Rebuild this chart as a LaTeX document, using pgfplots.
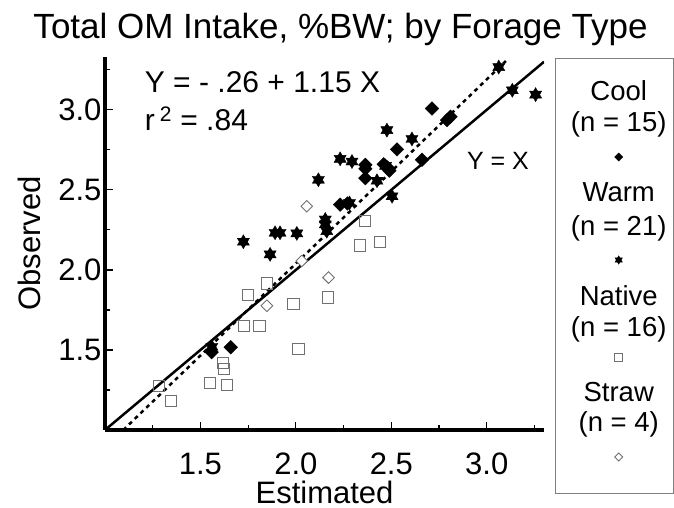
\documentclass[border=0pt]{standalone}
\usepackage{fontspec}
\setmainfont{Liberation Sans}
\usepackage{pgfplots}
\pgfplotsset{compat=1.18}
\definecolor{mk}{HTML}{707070}
\pgfdeclareplotmark{hexstar}{%
 \pgfpathmoveto{\pgfqpointpolar{90}{\pgfplotmarksize}}%
 \pgfpathlineto{\pgfqpointpolar{210}{\pgfplotmarksize}}%
 \pgfpathlineto{\pgfqpointpolar{330}{\pgfplotmarksize}}%
 \pgfpathclose
 \pgfpathmoveto{\pgfqpointpolar{270}{\pgfplotmarksize}}%
 \pgfpathlineto{\pgfqpointpolar{30}{\pgfplotmarksize}}%
 \pgfpathlineto{\pgfqpointpolar{150}{\pgfplotmarksize}}%
 \pgfpathclose
 \pgfusepathqfillstroke}
\pgfdeclareplotmark{rdiam}{%
 \pgfpathmoveto{\pgfqpoint{0pt}{\pgfplotmarksize}}%
 \pgfpathlineto{\pgfqpoint{\pgfplotmarksize}{0pt}}%
 \pgfpathlineto{\pgfqpoint{0pt}{-\pgfplotmarksize}}%
 \pgfpathlineto{\pgfqpoint{-\pgfplotmarksize}{0pt}}%
 \pgfpathclose
 \pgfusepathqfillstroke}
\begin{document}
\begin{tikzpicture}
\path[use as bounding box] (0,0) rectangle (674bp,508bp);
\begin{axis}[
  at={(105bp,78bp)}, anchor=south west,
  scale only axis, width=439bp, height=373bp,
  xmin=1.0, xmax=3.30, ymin=1.0, ymax=3.33,
  axis x line=bottom, axis y line=left,
  axis line style={line width=3bp, -},
  xtick={1.5,2.0,2.5,3.0}, ytick={1.5,2.0,2.5,3.0},
  minor xtick={1.25,1.75,2.25,2.75,3.25},
  minor ytick={1.25,1.75,2.25,2.75,3.25},
  tick align=inside,
  major tick length=8bp, minor tick length=5bp,
  every tick/.style={black, line width=1.2bp},
  xticklabels={1.5,2.0,2.5,3.0}, yticklabels={1.5,2.0,2.5,3.0},
  /pgf/number format/assume math mode=true,
  ticklabel style={font=\fontsize{31bp}{36bp}\selectfont},
  xticklabel style={anchor=base, yshift=-44bp},
  xlabel={Estimated}, ylabel={Observed},
  label style={font=\fontsize{31bp}{36bp}\selectfont, inner sep=0pt},
  xlabel style={at={(axis description cs:0.5,0)}, anchor=base, yshift=-73bp},
  ylabel style={at={(axis description cs:0,0.5)}, anchor=base, yshift=64bp},
  title={Total OM Intake, \%BW; by Forage Type},
  title style={at={(axis description cs:0.5,1)}, anchor=base, xshift=16bp, yshift=13bp, font=\fontsize{35bp}{42bp}\selectfont},
]
% Y = X
\addplot[black, line width=2.5bp] coordinates {(1.0,1.0) (3.30,3.30)};
% regression
\addplot[black, line width=2.5bp, dash pattern=on 4bp off 4bp] coordinates {(1.0957,1.0) (3.10,3.305)};
% Native
\addplot[only marks, mark=square, mark size=5.6bp, mark options={draw=mk, line width=0.9bp, fill=none}] coordinates {
(1.284,1.273) (1.345,1.182) (1.550,1.294) (1.638,1.280) (1.620,1.418) (1.623,1.383)
(1.728,1.652) (1.809,1.652) (1.748,1.845) (1.850,1.915) (2.364,2.304) (2.337,2.153)
(2.439,2.174) (1.987,1.787) (2.168,1.828) (2.013,1.507)};
% Straw
\addplot[only marks, mark=rdiam, mark size=5.8bp, mark options={draw=mk, line width=0.9bp, fill=white}] coordinates {
(2.057,2.398) (1.848,1.776) (2.171,1.952) (2.031,2.056)};
% Cool
\addplot[only marks, mark=rdiam, mark size=6.8bp, mark options={draw=black, fill=black}] coordinates {
(1.559,1.486) (1.659,1.517) (2.232,2.408) (2.364,2.656) (2.364,2.632) (2.364,2.573)
(2.530,2.753) (2.661,2.688) (2.713,3.008) (2.792,2.936) (2.810,2.957)
(2.460,2.660) (2.480,2.640) (2.490,2.620) (2.270,2.415)};
% Warm
\addplot[only marks, mark=hexstar, mark size=7bp, mark options={draw=black, fill=black}] coordinates {
(3.063,3.267) (3.134,3.122) (3.256,3.095) (2.477,2.873) (2.608,2.818) (2.232,2.694)
(2.294,2.677) (2.425,2.557) (2.281,2.418) (2.504,2.460) (2.154,2.315) (2.154,2.284)
(2.162,2.242) (2.118,2.563) (1.891,2.232) (1.917,2.232) (2.005,2.228) (1.725,2.176)
(1.865,2.097) (2.470,2.650) (1.560,1.520)};
\node[anchor=base west, font=\fontsize{30bp}{36bp}\selectfont, inner sep=0pt] at (axis cs:1.208,3.109) {Y = - .26 + 1.15 X};
\node[anchor=base west, font=\fontsize{30bp}{36bp}\selectfont, inner sep=0pt] at (axis cs:1.208,2.870) {r\,\textsuperscript{2} = .84};
\node[anchor=center, font=\fontsize{25bp}{30bp}\selectfont, inner sep=0pt] at (axis cs:3.059,2.683) {Y = X};
\end{axis}
\begin{axis}[
  at={(555bp,15bp)}, anchor=south west,
  scale only axis, width=118bp, height=434bp,
  xmin=0, xmax=1, ymin=0, ymax=434,
  xtick=\empty, ytick=\empty,
  axis line style={draw=gray, line width=1bp},
]
\tikzset{lg/.style={anchor=base, inner sep=0pt, font=\fontsize{27.5bp}{32bp}\selectfont}}
\node[lg] at (axis cs:0.54,392) {Cool};
\node[lg] at (axis cs:0.54,361) {(n = 15)};
\node[lg] at (axis cs:0.54,291) {Warm};
\node[lg] at (axis cs:0.54,257) {(n = 21)};
\node[lg] at (axis cs:0.54,187) {Native};
\node[lg] at (axis cs:0.54,156) {(n = 16)};
\node[lg] at (axis cs:0.54,91) {Straw};
\node[lg] at (axis cs:0.54,61) {(n = 4)};
\addplot[only marks, mark=rdiam, mark size=4bp, mark options={draw=black, fill=black}] coordinates {(0.54,336)};
\addplot[only marks, mark=hexstar, mark size=4.2bp, mark options={draw=black, fill=black}] coordinates {(0.54,233)};
\addplot[only marks, mark=square, mark size=4bp, mark options={draw=mk, line width=0.8bp}] coordinates {(0.54,136)};
\addplot[only marks, mark=rdiam, mark size=4bp, mark options={draw=mk, line width=0.8bp, fill=white}] coordinates {(0.54,36)};
\end{axis}
\end{tikzpicture}
\end{document}
